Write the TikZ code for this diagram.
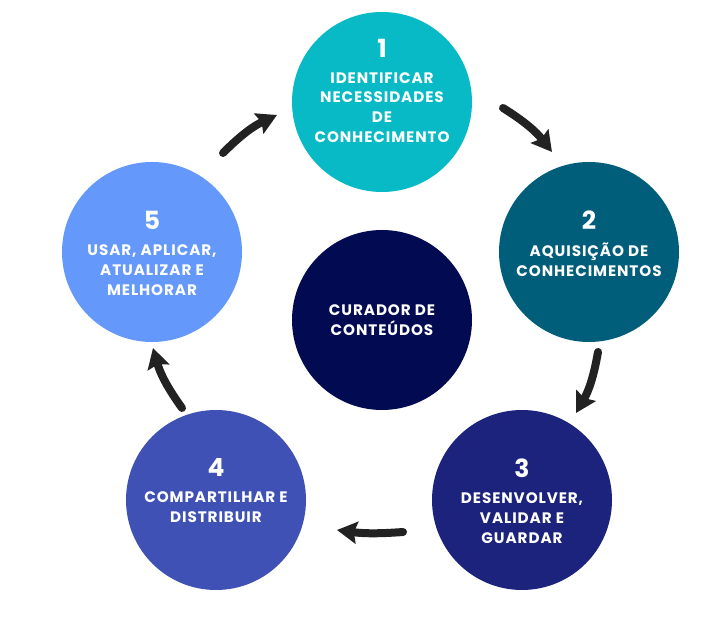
\documentclass[tikz,border=0pt]{standalone}
\usepackage{fontspec}
\setmainfont{Poppins}
\newfontfamily\labfont{Poppins}[LetterSpace=6]
\usetikzlibrary{arrows.meta}
\definecolor{cOne}{HTML}{07BAC6}
\definecolor{cTwo}{HTML}{005E7A}
\definecolor{cThree}{HTML}{1C237C}
\definecolor{cFour}{HTML}{3F51B5}
\definecolor{cFive}{HTML}{6498FA}
\definecolor{cCore}{HTML}{020A52}
\definecolor{arrowcol}{HTML}{222222}
\tikzset{
  stage/.style={circle,minimum size=180pt,inner sep=0pt,draw=none},
  numtxt/.style={text=white,font=\bfseries\fontsize{25}{25}\selectfont,inner sep=0pt},
  labtxt/.style={text=white,font=\labfont\bfseries\fontsize{15.2}{19.7}\selectfont,align=center,inner sep=0pt},
  cyclearrow/.style={draw=arrowcol,line width=8pt,line cap=round,
    -{Stealth[width=22pt,length=20pt,inset=3pt]}},
}
\begin{document}
\begin{tikzpicture}[x=1pt,y=1pt]
\useasboundingbox (0,0) rectangle (720,620);
\fill[white] (0,0) rectangle (720,620);
% circles
\node[stage,fill=cOne]   (s1) at (382,518) {};
\node[stage,fill=cTwo]   (s2) at (589,368) {};
\node[stage,fill=cThree] (s3) at (522,120) {};
\node[stage,fill=cFour]  (s4) at (216,120) {};
\node[stage,fill=cFive]  (s5) at (152,368) {};
\node[stage,fill=cCore]  (s0) at (382,300) {};
% texts
\node[numtxt] (n1) at (382,572) {1};
\node[labtxt] (l1) at (382,512.5) {IDENTIFICAR\\NECESSIDADES\\DE\\CONHECIMENTO};
\node[numtxt] (n2) at (589,400) {2};
\node[labtxt] (l2) at (589,360) {AQUISIÇÃO DE\\CONHECIMENTOS};
\node[numtxt] (n3) at (522,152) {3};
\node[labtxt] (l3) at (522,102) {DESENVOLVER,\\VALIDAR E\\GUARDAR};
\node[numtxt] (n4) at (216,152) {4};
\node[labtxt] (l4) at (216,113) {COMPARTILHAR E\\DISTRIBUIR};
\node[numtxt] (n5) at (152,400) {5};
\node[labtxt] (l5) at (152,350) {USAR, APLICAR,\\ATUALIZAR E\\MELHORAR};
\node[labtxt] (l0) at (382,299.5) {CURADOR DE\\CONTEÚDOS};
% arrow ends
\coordinate (a1s) at (503,512);
\coordinate (a1e) at (552,468);
\coordinate (a2s) at (598,268);
\coordinate (a2e) at (576,207);
\coordinate (a3s) at (403,88);
\coordinate (a3e) at (337,90);
\coordinate (a4s) at (182,212);
\coordinate (a4e) at (153,272);
\coordinate (a5s) at (223,467);
\coordinate (a5e) at (277,505);
\draw[cyclearrow] (a1s) to[bend left=10] (a1e);
\draw[cyclearrow] (a2s) to[bend left=10] (a2e);
\draw[cyclearrow] (a3s) to[bend left=6] (a3e);
\draw[cyclearrow] (a4s) to[bend left=10] (a4e);
\draw[cyclearrow] (a5s) to[bend left=10] (a5e);
\end{tikzpicture}
\end{document}
